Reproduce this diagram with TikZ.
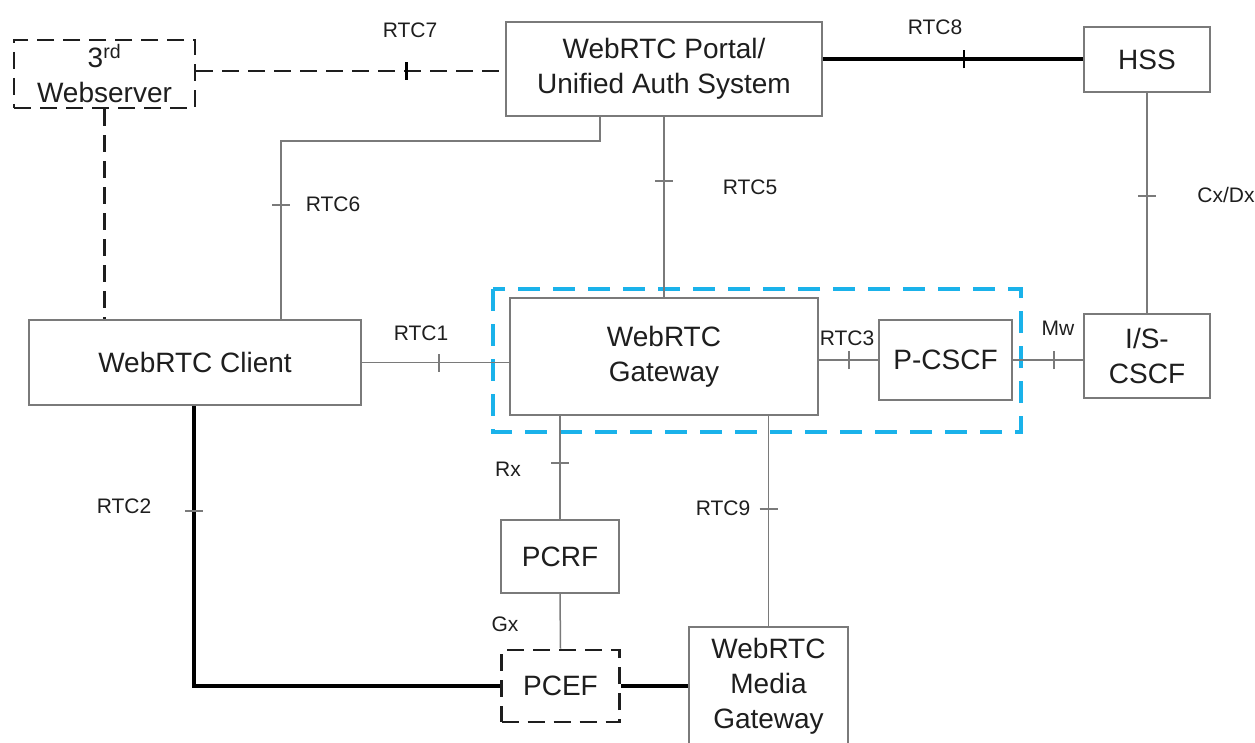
\documentclass[tikz,border=0pt]{standalone}
\usepackage{fontspec}
\setmainfont{Liberation Sans}
\usetikzlibrary{decorations.markings}
\definecolor{edge}{HTML}{7A7A7A}
\definecolor{ink}{HTML}{1E1E1E}
\definecolor{groupblue}{HTML}{1AB2EA}

\tikzset{
  box/.style={draw=edge, line width=1.6pt, fill=white, inner sep=0pt, align=center,
    text=ink, font=\fontsize{28}{35}\selectfont},
  dbox/.style={box, draw=ink, line width=2.6pt, dash pattern=on 17pt off 9pt},
  lbl/.style={text=ink, font=\fontsize{21}{25}\selectfont, inner sep=0pt},
  thinlink/.style={draw=edge, line width=1.5pt},
  heavylink/.style={draw=black, line width=4pt},
  dashlink/.style={draw=ink, line width=2.6pt, dash pattern=on 17pt off 9pt},
  % interface tick: #1 = distance along the link, #2 = tick look
  tickmark/.style n args={2}{postaction={decorate, decoration={markings,
    mark=at position #1 with {\draw[solid, #2] (0,-9pt) -- (0,9pt);}}}},
  greytick/.style={draw=edge, line width=1.5pt},
  blacktick/.style={draw=black, line width=2.6pt},
}

\begin{document}
\begin{tikzpicture}[x=1pt, y=-1pt]
\useasboundingbox (0,0) rectangle (1255,743);

% network elements
\node[dbox, minimum width=181, minimum height=68] (web) at (104.5,74)
  {3\textsuperscript{rd}\\Webserver};
\node[box, minimum width=316, minimum height=94] (portal) at (664,69)
  {WebRTC Portal/\\Unified Auth System};
\node[box, minimum width=126, minimum height=65] (hss) at (1147,59.5) {HSS};
\node[box, minimum width=332, minimum height=85] (client) at (195,362.5) {WebRTC Client};
\node[box, minimum width=308, minimum height=117] (gw) at (664,356.5) {WebRTC\\Gateway};
\node[box, minimum width=133, minimum height=80] (pcscf) at (945.5,360) {P-CSCF};
\node[box, minimum width=126, minimum height=84] (iscscf) at (1147,356) {I/S-\\CSCF};
\node[box, minimum width=118, minimum height=73] (pcrf) at (560,556.5) {PCRF};
\node[dbox, minimum width=118, minimum height=72] (pcef) at (560.5,686) {PCEF};
\node[box, minimum width=159, minimum height=118] (media) at (768.5,686)
  {WebRTC\\Media\\Gateway};

% gateway + P-CSCF grouping
\draw[groupblue, line width=3.5pt, dash pattern=on 22pt off 13pt]
  (493,289) rectangle (1021,432);

% reference points
\draw[dashlink, tickmark={210pt}{blacktick}] (web.east |- 0,71) -- (portal.west |- 0,71);
\draw[heavylink, tickmark={141pt}{blacktick}] (hss.west -| portal.east) -- (hss.west);
\draw[thinlink, tickmark={407pt}{greytick}]
  ([xshift=-64pt]portal.south) |- (281,141) -- ([xshift=86pt]client.north);
\draw[thinlink, tickmark={64pt}{greytick}] (portal.south) -- (gw.north);
\draw[thinlink, tickmark={103pt}{greytick}] (hss.south) -- (iscscf.north);
\draw[thinlink, tickmark={77pt}{greytick}] (client.east) -- (client.east -| gw.west);
\draw[thinlink, tickmark={30pt}{greytick}] (pcscf.west -| gw.east) -- (pcscf.west);
\draw[thinlink, tickmark={41pt}{greytick}] (pcscf.east) -- (pcscf.east -| iscscf.west);
\draw[thinlink, tickmark={47pt}{greytick}] (pcrf.north |- gw.south) -- (pcrf.north);
\draw[thinlink, tickmark={93pt}{greytick}] (media.north |- gw.south) -- (media.north);
\draw[thinlink] (pcrf.south) -- (pcef.north);
\draw[dashlink] (web.south) -- (web.south |- client.north);
\draw[heavylink, tickmark={105pt}{greytick}] ([xshift=-1pt]client.south) |- (pcef.west);
\draw[heavylink] (pcef.east) -- (pcef.east -| media.west);

% interface names
\node[lbl] (l7) at (410,30) {RTC7};
\node[lbl] (l8) at (935,27) {RTC8};
\node[lbl] (l6) at (333,204) {RTC6};
\node[lbl] (l5) at (750,187) {RTC5};
\node[lbl] (lcx) at (1226,195) {Cx/Dx};
\node[lbl] (l1) at (421,333) {RTC1};
\node[lbl] (l3) at (847,338) {RTC3};
\node[lbl] (lmw) at (1058,328) {Mw};
\node[lbl] (lrx) at (508,469) {Rx};
\node[lbl] (l9) at (723,508) {RTC9};
\node[lbl] (lgx) at (505,624) {Gx};
\node[lbl] (l2) at (124,506) {RTC2};
\end{tikzpicture}
\end{document}
